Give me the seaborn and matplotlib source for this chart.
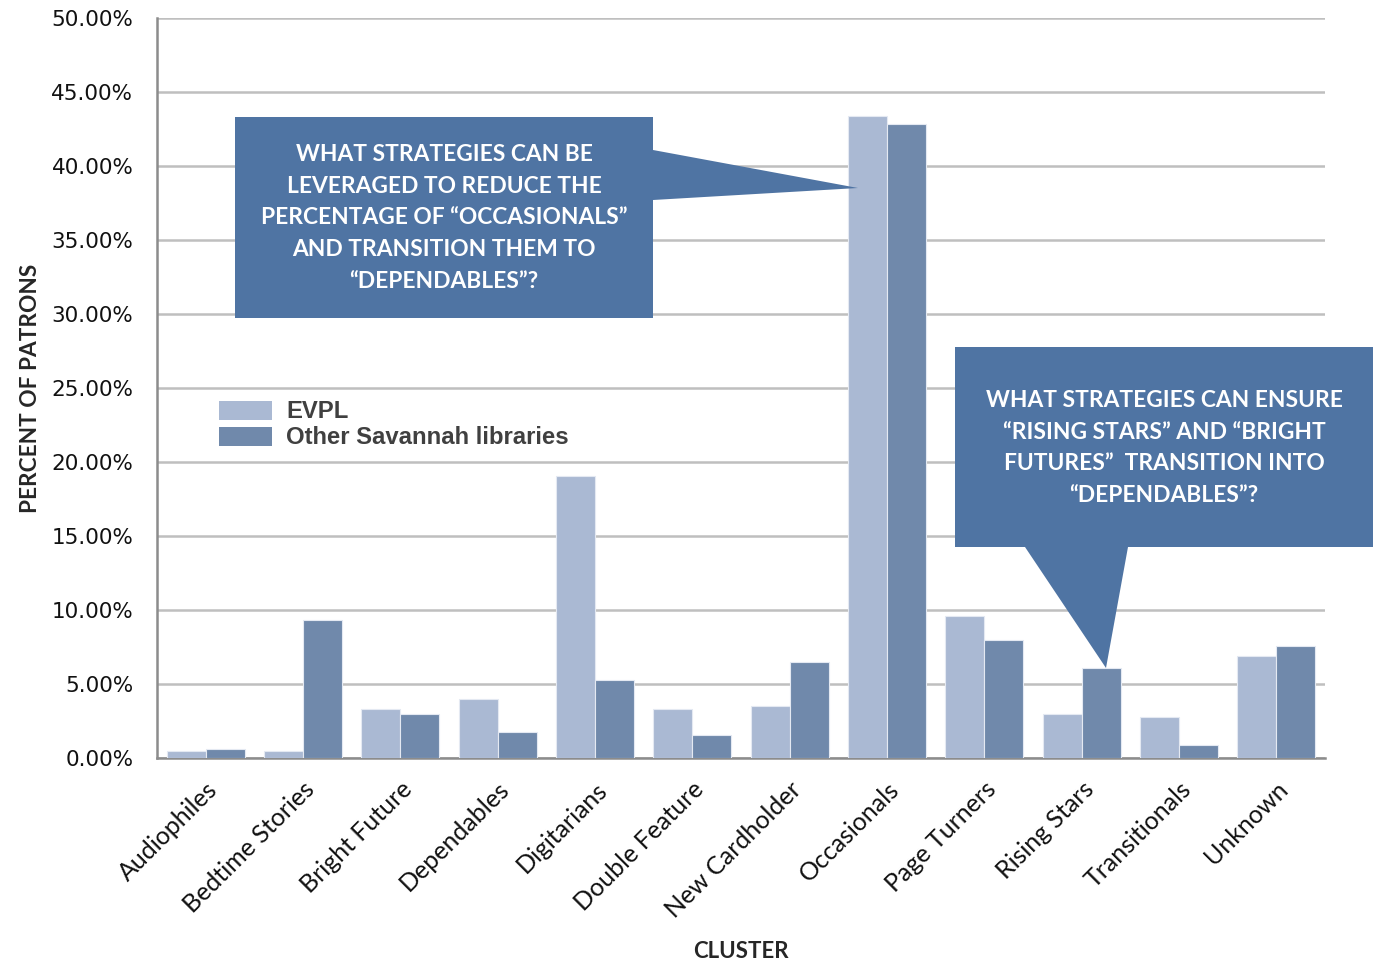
import matplotlib
matplotlib.use("Agg")
import matplotlib.pyplot as plt
import seaborn as sns
import pandas as pd
from matplotlib.patches import Polygon, Patch
from matplotlib.ticker import FuncFormatter, MultipleLocator

categories = ["Audiophiles", "Bedtime Stories", "Bright Future", "Dependables",
              "Digitarians", "Double Feature", "New Cardholder", "Occasionals",
              "Page Turners", "Rising Stars", "Transitionals", "Unknown"]
evpl = [0.47, 0.47, 3.30, 4.00, 19.05, 3.30, 3.49, 43.35, 9.60, 3.00, 2.77, 6.89]
other = [0.60, 9.30, 3.00, 1.78, 5.27, 1.57, 6.49, 42.84, 7.99, 6.08, 0.90, 7.57]
series = ["EVPL", "Other Savannah libraries"]
colors = ["#AAB9D3", "#7089AB"]

callout1 = "WHAT STRATEGIES CAN BE\nLEVERAGED TO REDUCE THE\nPERCENTAGE OF \u201cOCCASIONALS\u201d\nAND TRANSITION THEM TO\n\u201cDEPENDABLES\u201d?"
callout2 = "WHAT STRATEGIES CAN ENSURE\n\u201cRISING STARS\u201d AND \u201cBRIGHT\nFUTURES\u201d  TRANSITION INTO\n\u201cDEPENDABLES\u201d?"

df = pd.DataFrame({
    "cluster": categories * 2,
    "pct": evpl + other,
    "library": [series[0]] * len(categories) + [series[1]] * len(categories),
})

sns.set_theme(style="white")
plt.rcParams["font.family"] = ["Lato", "DejaVu Sans"]

W, H = 1373, 960
fig = plt.figure(figsize=(W / 100, H / 100), dpi=100)
ax = fig.add_axes([157 / W, 1 - 758 / H, (1325 - 157) / W, (758 - 18) / H])

sns.barplot(data=df, x="cluster", y="pct", hue="library", palette=colors,
            saturation=1, width=0.8, ax=ax, edgecolor="#E4E9F2", linewidth=0.8,
            legend=False, zorder=3)

ax.set_ylim(0, 50)
ax.set_xlim(-0.5, len(categories) - 0.5)
ax.yaxis.set_major_locator(MultipleLocator(5))
ax.yaxis.set_major_formatter(FuncFormatter(lambda v, p: f"{v:.2f}%"))
ax.grid(axis="y", color="#BFBFBF", linewidth=1.8, zorder=0)
ax.set_axisbelow(True)
for s in ["top", "right"]:
    ax.spines[s].set_visible(False)
for s in ["left", "bottom"]:
    ax.spines[s].set_color("#8C8C8C")
    ax.spines[s].set_linewidth(1.8)
ax.tick_params(axis="y", length=0, pad=17, labelcolor="#111111")
ax.tick_params(axis="x", length=0, pad=14, labelsize=18, labelcolor="#111111")
for lab in ax.get_yticklabels():
    lab.set_family(["DejaVu Sans"])
    lab.set_fontsize(15.5)
plt.setp(ax.get_xticklabels(), rotation=45, ha="right", rotation_mode="anchor")

ax.set_ylabel("PERCENT OF PATRONS", fontsize=16.3, fontweight="bold")
ax.set_xlabel("CLUSTER", fontsize=16, fontweight="bold", labelpad=14)
ax.yaxis.set_label_coords(-116 / (1325 - 157), 0.5)

# legend
handles = [Patch(facecolor=c, edgecolor="none") for c in colors]
leg = ax.legend(handles, series, loc="upper left",
                bbox_to_anchor=(40 / 1168, (758 - 379) / 740),
                frameon=False, handlelength=2.26, handleheight=0.84, handletextpad=0.58,
                labelspacing=0.12,
                prop={"family": ["Liberation Sans"], "weight": "bold", "size": 17.2})
for t in leg.get_texts():
    t.set_color("#404040")

def px(x, y):
    return (x / W, 1 - y / H)

box_color = "#4F74A3"
# callout 1
poly1 = Polygon([px(235, 117), px(653, 117), px(653, 150), px(858, 188), px(653, 200),
                 px(653, 318), px(235, 318)], closed=True, transform=fig.transFigure,
                facecolor=box_color, edgecolor="none", zorder=5)
fig.patches.append(poly1)
fig.text(444 / W, 1 - 218 / H, callout1, ha="center", va="center", color="white",
         fontsize=16.4, fontweight="bold", linespacing=1.64, zorder=6)
# callout 2
poly2 = Polygon([px(955, 347), px(1373, 347), px(1373, 547), px(1128, 547), px(1106, 668),
                 px(1025, 547), px(955, 547)], closed=True, transform=fig.transFigure,
                facecolor=box_color, edgecolor="none", zorder=5)
fig.patches.append(poly2)
fig.text(1164 / W, 1 - 448 / H, callout2, ha="center", va="center", color="white",
         fontsize=16.4, fontweight="bold", linespacing=1.64, zorder=6)

fig.savefig("out.png", dpi=100)
